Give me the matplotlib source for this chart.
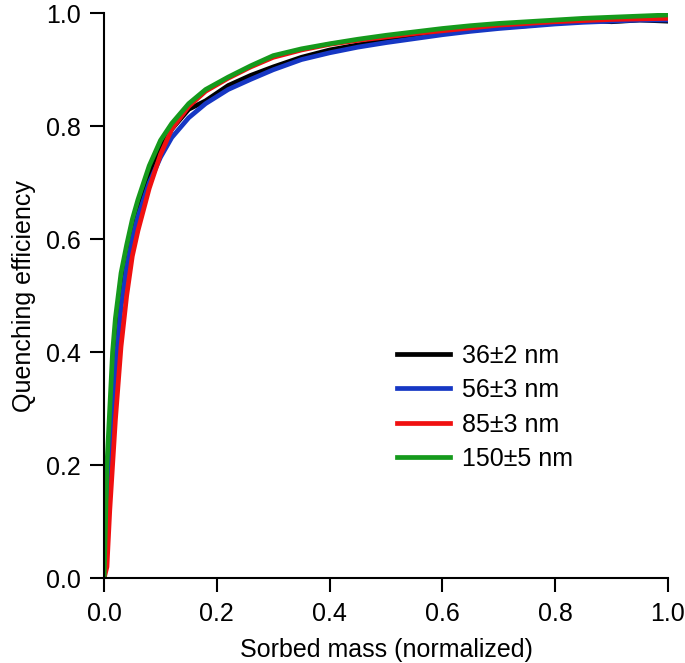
import numpy as np
import matplotlib.pyplot as plt

plt.rcParams['font.family'] = ['Liberation Sans', 'DejaVu Sans']

# Sorbed mass (normalized) sample points
x = [0.0, 0.005, 0.01, 0.015, 0.02, 0.03, 0.04, 0.05, 0.06, 0.08, 0.10,
     0.12, 0.15, 0.18, 0.22, 0.26, 0.30, 0.35, 0.40, 0.45, 0.50, 0.55,
     0.60, 0.65, 0.70, 0.75, 0.80, 0.85, 0.90, 0.95, 1.0]

# quenching efficiency
q_36nm = [0.0, 0.12, 0.24, 0.33, 0.40, 0.50, 0.565, 0.61, 0.65, 0.715, 0.76,
          0.795, 0.83, 0.845, 0.872, 0.89, 0.905, 0.922, 0.935, 0.944, 0.952, 0.958,
          0.965, 0.970, 0.975, 0.978, 0.983, 0.988, 0.985, 0.988, 0.986]
q_56nm = [0.0, 0.10, 0.20, 0.30, 0.37, 0.48, 0.55, 0.60, 0.64, 0.70, 0.745,
          0.78, 0.815, 0.84, 0.865, 0.883, 0.90, 0.918, 0.930, 0.940, 0.948, 0.955,
          0.962, 0.968, 0.973, 0.977, 0.981, 0.984, 0.986, 0.988, 0.988]
q_85nm = [0.0, 0.02, 0.12, 0.20, 0.28, 0.41, 0.50, 0.57, 0.615, 0.69, 0.75,
          0.795, 0.835, 0.862, 0.885, 0.905, 0.922, 0.935, 0.945, 0.952, 0.958, 0.964,
          0.969, 0.974, 0.979, 0.982, 0.985, 0.987, 0.989, 0.990, 0.991]
q_150nm = [0.0, 0.20, 0.30, 0.40, 0.46, 0.54, 0.59, 0.635, 0.67, 0.73, 0.775,
           0.805, 0.84, 0.865, 0.887, 0.907, 0.925, 0.937, 0.946, 0.954, 0.961, 0.967,
           0.973, 0.978, 0.982, 0.985, 0.988, 0.991, 0.993, 0.995, 0.997]

labels = ['36±2 nm', '56±3 nm', '85±3 nm', '150±5 nm']
colors = ['#000000', '#1637c4', '#f01010', '#159a1c']

fig = plt.figure(figsize=(6.85, 6.63), dpi=100)
ax = fig.add_axes([0.152, 0.128, 0.823, 0.852])

for y, lab, c in zip([q_36nm, q_56nm, q_85nm, q_150nm], labels, colors):
    ax.plot(x, y, color=c, lw=3.4, label=lab)

ax.set_xlim(0, 1)
ax.set_ylim(0, 1)
ax.set_xticks(np.arange(0, 1.01, 0.2))
ax.set_yticks(np.arange(0, 1.01, 0.2))
ax.xaxis.set_major_formatter(plt.FormatStrFormatter('%.1f'))
ax.yaxis.set_major_formatter(plt.FormatStrFormatter('%.1f'))

for s in ['top', 'right']:
    ax.spines[s].set_visible(False)
for s in ['left', 'bottom']:
    ax.spines[s].set_linewidth(1.5)
ax.tick_params(direction='out', length=10, width=1.5, labelsize=18)
ax.tick_params(axis='x', pad=7.5)
ax.tick_params(axis='y', pad=7)

ax.set_xlabel('Sorbed mass (normalized)', fontsize=18, labelpad=8.5)
ax.set_ylabel('Quenching efficiency', fontsize=18, labelpad=7)

ax.legend(loc='upper left', bbox_to_anchor=(0.52, 0.415), frameon=False,
          fontsize=18, handlelength=2.1, handletextpad=0.5, labelspacing=0.42,
          borderpad=0, borderaxespad=0)

fig.savefig('out.png', dpi=100)
